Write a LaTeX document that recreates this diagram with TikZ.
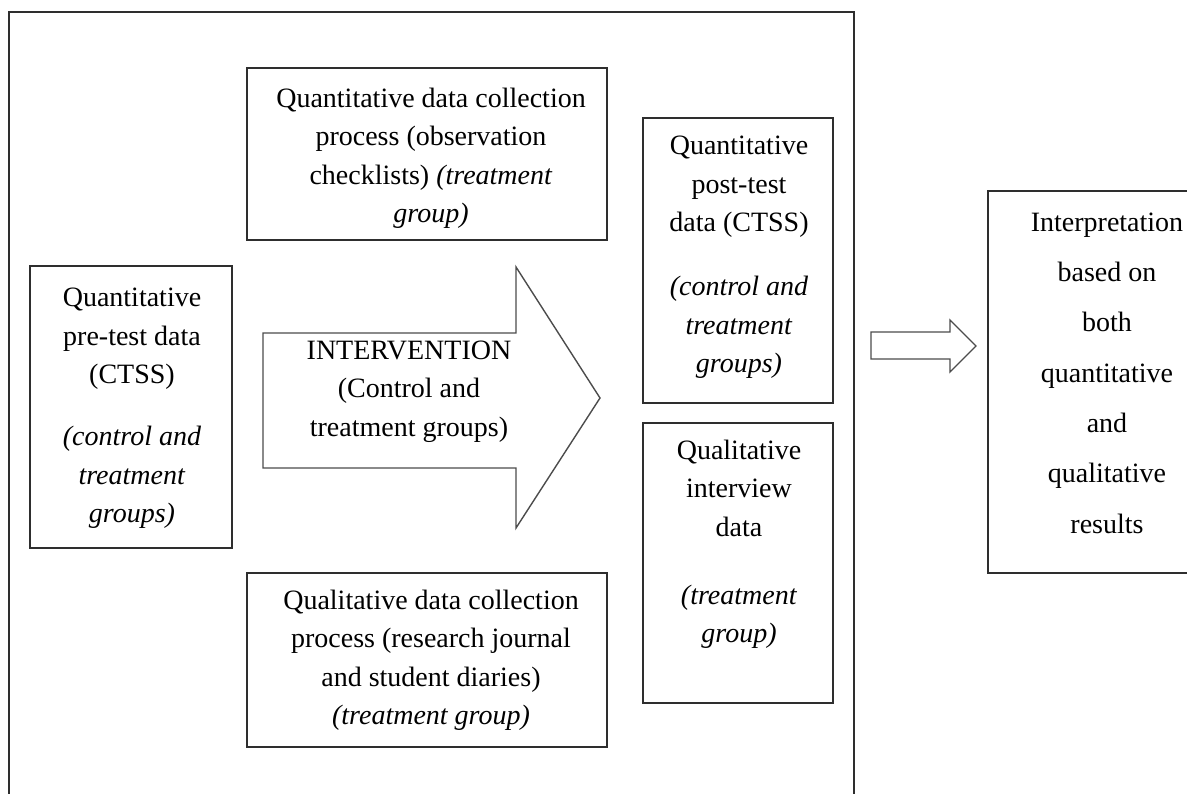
\documentclass[tikz,border=0pt]{standalone}
\usepackage{fontspec}
\setmainfont{Liberation Serif}
\begin{document}
\begin{tikzpicture}[x=1pt,y=-1pt,
  font=\fontsize{28}{38.5}\selectfont,
  box/.style={draw=black!82, line width=1.6pt, inner sep=0pt},
  txt/.style={align=center, inner sep=0pt},
  arr/.style={draw=black!70, line width=1.4pt, line join=miter}]
\useasboundingbox (0,0) rectangle (1187,794);
\clip (0,0) rectangle (1187,794);
% outer frame (open at the bottom)
\draw[draw=black!82, line width=1.6pt] (9,820) -- (9,12) -- (854,12) -- (854,820);
% boxes
\node[box, minimum width=360pt, minimum height=172pt] (qdc) at (427,154) {};
\node[box, minimum width=202pt, minimum height=282pt] (pre) at (131,407) {};
\node[box, minimum width=360pt, minimum height=174pt] (qldc) at (427,660) {};
\node[box, minimum width=190pt, minimum height=285pt] (post) at (738,260.5) {};
\node[box, minimum width=190pt, minimum height=280pt] (intv) at (738,563) {};
\node[box, minimum width=240pt, minimum height=382pt] (interp) at (1108,382) {};
% texts
\node[txt] (qdct) at (431,158.5) {Quantitative data collection\\process (observation\\checklists) \textit{(treatment}\\\textit{group)}};
\node[txt] (pret) at (132,408.5) {Quantitative\\pre-test data\\(CTSS)\\[23.5pt]\textit{(control and}\\\textit{treatment}\\\textit{groups)}};
\node[txt] (qldct) at (431,660.5) {Qualitative data collection\\process (research journal\\and student diaries)\\\textit{(treatment group)}};
\node[txt] (postt) at (739,257.5) {Quantitative\\post-test\\data (CTSS)\\[25.5pt]\textit{(control and}\\\textit{treatment}\\\textit{groups)}};
\node[txt] (intvt) at (739,544.5) {Qualitative\\interview\\data\\[29.5pt]\textit{(treatment}\\\textit{group)}};
\node[txt, font=\fontsize{28}{50.3}\selectfont] (interpt) at (1107,373) {Interpretation\\based on\\both\\quantitative\\and\\qualitative\\results};
% big arrow
\coordinate (a1) at (263,333);
\coordinate (a2) at (516,333);
\coordinate (a3) at (516,267);
\coordinate (a4) at (600,398);
\coordinate (a5) at (516,528);
\coordinate (a6) at (516,468);
\coordinate (a7) at (263,468);
\draw[arr] (a1) -- (a2) -- (a3) -- (a4) -- (a5) -- (a6) -- (a7) -- cycle;
\node[txt] (intt) at (409,391.5) {INTERVENTION\\(Control and\\treatment groups)};
% small arrow
\coordinate (b1) at (871,332);
\coordinate (b2) at (950,332);
\coordinate (b3) at (950,320);
\coordinate (b4) at (976,346);
\coordinate (b5) at (950,372);
\coordinate (b6) at (950,359);
\coordinate (b7) at (871,359);
\draw[arr] (b1) -- (b2) -- (b3) -- (b4) -- (b5) -- (b6) -- (b7) -- cycle;
\end{tikzpicture}
\end{document}
